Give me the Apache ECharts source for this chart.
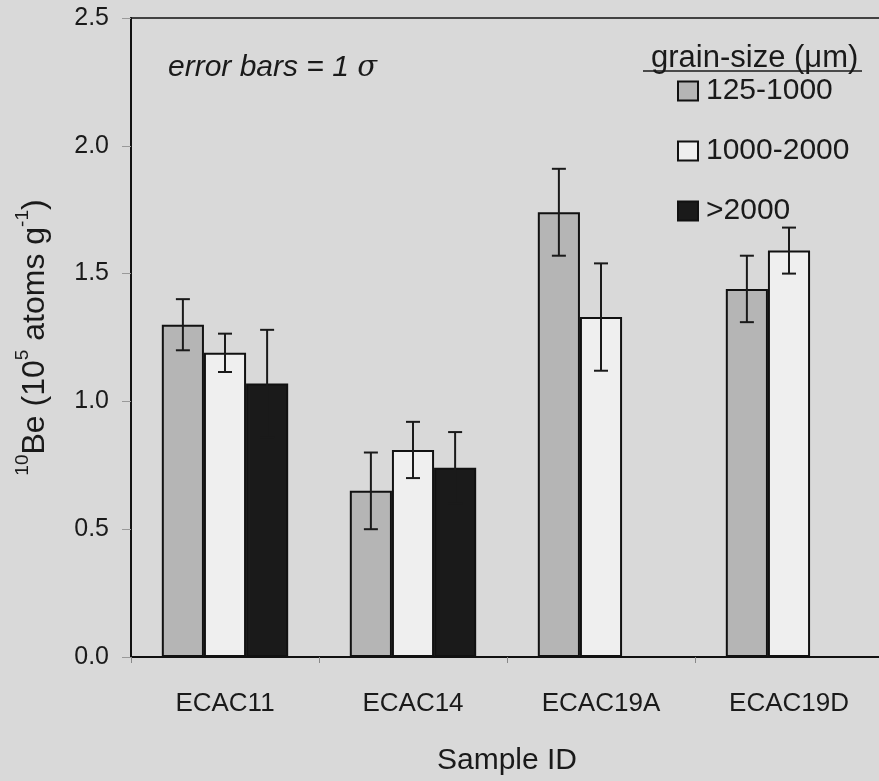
<!DOCTYPE html>
<html>
<head>
<meta charset="utf-8">
<script src="https://cdn.jsdelivr.net/npm/echarts@6/dist/echarts.min.js"></script>
<style>
html,body{margin:0;padding:0;background:#d9d9d9;overflow:hidden;}
#chart{width:879px;height:781px;}
</style>
</head>
<body>
<div id="chart"></div>
<script>
// ---- data ----
var categories = ['ECAC11', 'ECAC14', 'ECAC19A', 'ECAC19D'];
var seriesNames = ['125-1000', '1000-2000', '>2000'];
var fineValues = [1.30, 0.65, 1.74, 1.44];
var fineErrors = [0.10, 0.15, 0.17, 0.13];
var mediumValues = [1.19, 0.81, 1.33, 1.59];
var mediumErrors = [0.075, 0.11, 0.21, 0.09];
var coarseValues = [1.07, 0.74, null, null];
var coarseErrors = [0.21, 0.14, null, null];
var yTicks = [0, 0.5, 1.0, 1.5, 2.0, 2.5];

var BAR_FRAC = 0.224;
var FONT = 'Liberation Sans, Arial, sans-serif';
var colors = ['#b5b5b5', '#efefef', '#1a1a1a'];

var valueSets = [fineValues, mediumValues, coarseValues];
var errorSets = [fineErrors, mediumErrors, coarseErrors];

var errData = [];
for (var s = 0; s < 3; s++) {
  for (var c = 0; c < categories.length; c++) {
    if (valueSets[s][c] != null) errData.push([c, valueSets[s][c], errorSets[s][c], s]);
  }
}

var barSeries = seriesNames.map(function (name, i) {
  return {
    name: name,
    type: 'bar',
    data: valueSets[i],
    barWidth: (BAR_FRAC * 100) + '%',
    barGap: '0%',
    itemStyle: {color: colors[i], borderColor: '#111', borderWidth: 2},
    emphasis: {disabled: true},
    z: 2
  };
});

var chart = echarts.init(document.getElementById('chart'), null, {renderer: 'canvas'});
chart.setOption({
  backgroundColor: '#d9d9d9',
  animation: false,
  grid: {left: 131, top: 18, width: 752, bottom: 124, outerBoundsMode: 'none', containLabel: false,
    show: true, borderColor: '#111', borderWidth: 1.5, backgroundColor: 'transparent'},
  legend: {
    data: seriesNames,
    orient: 'vertical',
    left: 672,
    top: 71,
    itemWidth: 20,
    itemHeight: 19,
    itemGap: 30,
    icon: 'rect',
    selectedMode: false,
    textStyle: {fontFamily: FONT, fontSize: 30, color: '#1a1a1a', padding: [0, 0, 0, 3]}
  },
  xAxis: {
    type: 'category',
    data: categories,
    name: 'Sample ID',
    nameLocation: 'middle',
    nameGap: 89,
    nameTextStyle: {fontFamily: FONT, fontSize: 30, color: '#1a1a1a'},
    axisLine: {lineStyle: {color: '#111', width: 2}},
    axisTick: {show: true, length: 6, lineStyle: {color: '#888', width: 1}},
    axisLabel: {fontFamily: FONT, fontSize: 26, color: '#1a1a1a', margin: 34}
  },
  yAxis: {
    type: 'value',
    min: yTicks[0],
    max: yTicks[yTicks.length - 1],
    interval: 0.5,
    name: '{sup|10}{n|Be (10}{sup|5}{n| atoms g}{sup|-1}{n|)}',
    nameLocation: 'middle',
    nameRotate: 90,
    nameGap: 80,
    nameTextStyle: {
      fontFamily: FONT, color: '#1a1a1a',
      rich: {
        n: {fontFamily: FONT, fontSize: 32, color: '#1a1a1a', lineHeight: 38, verticalAlign: 'bottom'},
        sup: {fontFamily: FONT, fontSize: 19, color: '#1a1a1a', lineHeight: 38, verticalAlign: 'top'}
      }
    },
    axisLine: {show: true, lineStyle: {color: '#111', width: 2}},
    axisTick: {show: true, length: 9, lineStyle: {color: '#999', width: 1}},
    splitLine: {show: false},
    axisLabel: {fontFamily: FONT, fontSize: 25, color: '#1a1a1a', margin: 22,
      formatter: function (v) { return v.toFixed(1); }}
  },
  graphic: [
    {type: 'text', left: 168, top: 53, z: 10,
      style: {text: '{i|error bars = 1 }{s|σ}', fill: '#1a1a1a',
        rich: {i: {fontFamily: FONT, fontStyle: 'italic', fontSize: 30, fill: '#1a1a1a'},
               s: {fontFamily: 'DejaVu Serif, serif', fontStyle: 'italic', fontSize: 29, fill: '#1a1a1a'}}}},
    {type: 'text', left: 651, top: 43, z: 10,
      style: {text: 'grain-size (μm)', fill: '#1a1a1a', fontFamily: FONT, fontSize: 31}},
    {type: 'line', z: 10, shape: {x1: 643, y1: 71, x2: 862, y2: 71}, style: {stroke: '#1a1a1a', lineWidth: 1.5}}
  ],
  series: barSeries.concat([{
    type: 'custom',
    name: 'errors',
    z: 5,
    data: errData,
    renderItem: function (params, api) {
      var cat = api.value(0), val = api.value(1), err = api.value(2), si = api.value(3);
      var band = api.size([1, 0])[0];
      var bw = band * BAR_FRAC;
      var x = api.coord([cat, val])[0] + (si - 1) * bw;
      var yTop = api.coord([cat, val + err])[1];
      var yBot = api.coord([cat, val - err])[1];
      var cap = 7;
      var st = {stroke: '#1a1a1a', lineWidth: 2};
      return {type: 'group', children: [
        {type: 'line', shape: {x1: x, y1: yTop, x2: x, y2: yBot}, style: st},
        {type: 'line', shape: {x1: x - cap, y1: yTop, x2: x + cap, y2: yTop}, style: st},
        {type: 'line', shape: {x1: x - cap, y1: yBot, x2: x + cap, y2: yBot}, style: st}
      ]};
    }
  }])
});
</script>
</body>
</html>
